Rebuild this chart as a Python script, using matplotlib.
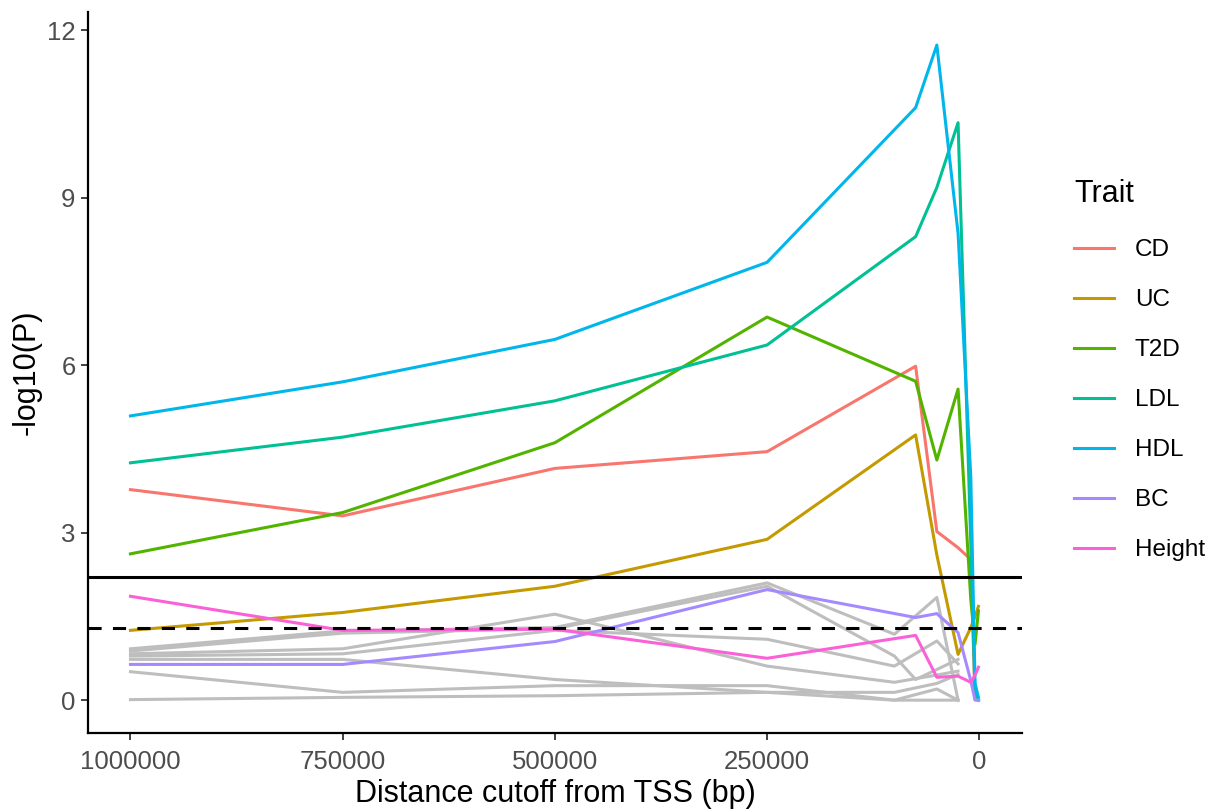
import numpy as np
import matplotlib.pyplot as plt
from matplotlib.lines import Line2D

plt.rcParams['font.family'] = ['Liberation Sans', 'DejaVu Sans']

# distance cutoffs (bp)
cutoffs = [1000000, 750000, 500000, 250000, 75000, 50000, 25000, 10000, 5000, 1000]

traits = ['CD', 'UC', 'T2D', 'LDL', 'HDL', 'BC', 'Height']
trait_colors = ['#F8766D', '#C49A00', '#53B400', '#00C094', '#00B6EB', '#A58AFF', '#FB61D7']

cd = [3.77, 3.30, 4.15, 4.45, 5.98, 3.02, 2.73, 2.52, 0.02, 0.0]
uc = [1.25, 1.57, 2.04, 2.88, 4.75, 2.60, 0.82, 1.30, 1.50, 1.68]
t2d = [2.62, 3.36, 4.61, 6.86, 5.71, 4.30, 5.57, 1.80, 1.00, 1.60]
ldl = [4.25, 4.71, 5.36, 6.36, 8.30, 9.18, 10.34, 2.80, 0.10, 0.0]
hdl = [5.09, 5.70, 6.46, 7.84, 10.61, 11.73, 8.36, 4.00, 0.30, 0.05]
bc = [0.64, 0.64, 1.05, 1.98, 1.48, 1.55, 1.21, 0.35, 0.0, 0.0]
height = [1.86, 1.25, 1.27, 0.75, 1.16, 0.41, 0.43, 0.32, 0.45, 0.59]
trait_vals = [cd, uc, t2d, ldl, hdl, bc, height]

# other (non-highlighted) traits, drawn in grey
grey_x = [
    [1000000, 750000, 500000, 250000, 100000, 50000, 25000],
    [1000000, 750000, 500000, 250000, 100000, 75000, 50000, 25000],
    [1000000, 750000, 500000, 250000, 100000, 50000, 25000],
    [1000000, 750000, 500000, 250000, 100000, 50000, 25000],
    [1000000, 750000, 500000, 250000, 100000, 50000, 25000],
    [1000000, 750000, 500000, 250000, 100000, 50000, 25000],
    [1000000, 750000, 500000, 250000, 100000, 50000, 25000],
]
grey_y = [
    [0.92, 1.24, 1.30, 2.10, 1.18, 1.84, 0.00],
    [0.88, 1.20, 1.28, 2.04, 0.79, 0.37, 0.55, 0.73],
    [0.83, 0.92, 1.54, 0.61, 0.32, 0.45, 0.52],
    [0.79, 0.83, 1.25, 1.09, 0.61, 1.06, 0.65],
    [0.73, 0.73, 0.37, 0.14, 0.14, 0.30, 0.46],
    [0.51, 0.14, 0.26, 0.26, 0.00, 0.00, 0.00],
    [0.01, 0.05, 0.08, 0.14, 0.00, 0.20, 0.00],
]

thresh_solid = 2.2
thresh_dash = 1.3

fig = plt.figure(figsize=(12.11, 8.09), dpi=100)
ax = fig.add_axes([0.0727, 0.094, 0.771, 0.891])

for gx, gy in zip(grey_x, grey_y):
    ax.plot(gx, gy, color='#BEBEBE', lw=2.2)

for name, col, vals in zip(traits, trait_colors, trait_vals):
    ax.plot(cutoffs, vals, color=col, lw=2.2, label=name)

ax.axhline(thresh_solid, color='black', lw=2.2)
ax.axhline(thresh_dash, color='black', lw=2.2, dashes=(4.3, 3.7))

ax.set_xlim(1050000, -50000)
ax.set_ylim(-0.587, 12.32)
ax.set_xticks([1000000, 750000, 500000, 250000, 0])
ax.set_xticklabels(['1000000', '750000', '500000', '250000', '0'])
ax.set_yticks([0, 3, 6, 9, 12])

for s in ['top', 'right']:
    ax.spines[s].set_visible(False)
for s in ['left', 'bottom']:
    ax.spines[s].set_linewidth(1.6)
ax.tick_params(length=5, width=1.3, colors='#333333', labelsize=18.5,
               labelcolor='#4D4D4D')
ax.tick_params(axis='x', pad=7)
ax.tick_params(axis='y', pad=4)

ax.set_xlabel('Distance cutoff from TSS (bp)', fontsize=22, labelpad=4)
ax.set_ylabel('-log10(P)', fontsize=22, labelpad=4)

handles = [Line2D([], [], color=c, lw=2.2) for c in trait_colors]
leg = fig.legend(handles, traits, title='Trait', loc='upper left',
                 bbox_to_anchor=(0.869, 0.806), frameon=False,
                 fontsize=17.5, title_fontsize=22, handlelength=1.65,
                 handletextpad=0.85, labelspacing=1.15)
leg._legend_box.align = 'left'
leg._legend_box.sep = 22

fig.savefig('out.png', dpi=100)
